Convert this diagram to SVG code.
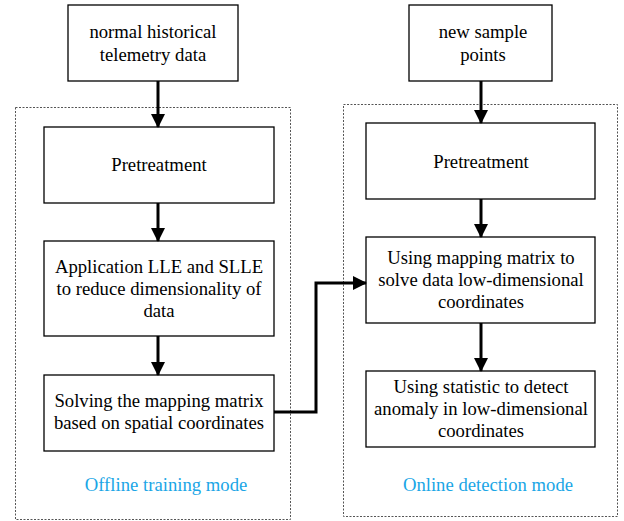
<svg xmlns="http://www.w3.org/2000/svg" width="624" height="521" viewBox="0 0 624 521">
<style>
.box{fill:#fff;stroke:#000;stroke-width:1.3}
.frame{fill:none;stroke:#555;stroke-width:1;stroke-dasharray:2,1.5}
.t{fill:#000}
.m{fill:#1aa6e6}
.c{fill:none;stroke:#000;stroke-width:3}
</style>
<defs>
<marker id="ah" markerUnits="userSpaceOnUse" markerWidth="14" markerHeight="14" refX="13" refY="7" orient="auto">
<path d="M0,0 L14,7 L0,14 Z" fill="#000"/>
</marker>
</defs>
<rect class="frame" x="15.5" y="107.5" width="275" height="412"/>
<rect class="frame" x="343.5" y="104.5" width="274" height="412"/>
<g font-family="Liberation Serif, Times New Roman, serif" font-size="18.7" text-anchor="middle">
<g id="n1"><rect class="box" x="68" y="5" width="170" height="76"/><text class="t" x="153" y="38">normal historical</text><text class="t" x="153" y="61">telemetry data</text></g>
<g id="n2"><rect class="box" x="44" y="127" width="230" height="76"/><text class="t" x="159" y="171">Pretreatment</text></g>
<g id="n3"><rect class="box" x="44" y="241" width="230" height="95"/><text class="t" x="159" y="273">Application LLE and SLLE</text><text class="t" x="159" y="295">to reduce dimensionality of</text><text class="t" x="159" y="317">data</text></g>
<g id="n4"><rect class="box" x="44" y="375" width="230" height="76"/><text class="t" x="159" y="407">Solving the mapping matrix</text><text class="t" x="159" y="429">based on spatial coordinates</text></g>
<g id="l1"><text class="m" x="166" y="491">Offline training mode</text></g>
<g id="n5"><rect class="box" x="409" y="5" width="143" height="76"/><text class="t" x="483" y="38">new sample</text><text class="t" x="483" y="61">points</text></g>
<g id="n6"><rect class="box" x="366" y="123" width="229" height="76"/><text class="t" x="481" y="168">Pretreatment</text></g>
<g id="n7"><rect class="box" x="366" y="237" width="229" height="86"/><text class="t" x="481" y="264">Using mapping matrix to</text><text class="t" x="481" y="286">solve data low-dimensional</text><text class="t" x="481" y="308">coordinates</text></g>
<g id="n8"><rect class="box" x="366" y="371" width="229" height="76"/><text class="t" x="481" y="393">Using statistic to detect</text><text class="t" x="481" y="415">anomaly in low-dimensional</text><text class="t" x="481" y="437">coordinates</text></g>
<g id="l2"><text class="m" x="488" y="491">Online detection mode</text></g>
</g>
<g id="connectors">
<path class="c" d="M158,81 V127" marker-end="url(#ah)"/>
<path class="c" d="M158,203 V241" marker-end="url(#ah)"/>
<path class="c" d="M158,336 V375" marker-end="url(#ah)"/>
<path class="c" d="M481,81 V123" marker-end="url(#ah)"/>
<path class="c" d="M481,199 V237" marker-end="url(#ah)"/>
<path class="c" d="M481,323 V371" marker-end="url(#ah)"/>
<path class="c" d="M274,412 H316 V283 H366" marker-end="url(#ah)"/>
</g>
</svg>
